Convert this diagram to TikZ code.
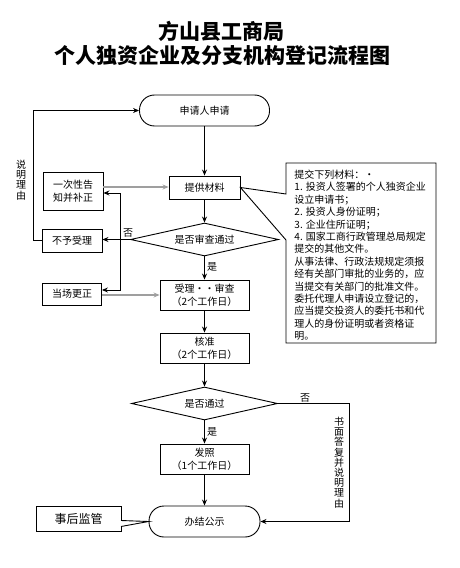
\documentclass[tikz,border=0pt]{standalone}
\usepackage{fontspec}
\setmainfont{Noto Sans CJK SC}
\usetikzlibrary{shapes.geometric,arrows.meta,calc}
\begin{document}
\begin{tikzpicture}[x=1bp,y=-1bp,
  line width=0.9bp,
  txt/.style={font=\fontsize{10bp}{13bp}\selectfont},
  box/.style={draw, rectangle, inner sep=0pt, align=center, txt},
  term/.style={draw, rectangle, rounded corners=15bp, inner sep=0pt, txt},
  dec/.style={draw, diamond, inner sep=0pt, aspect=4.5, minimum width=148bp, minimum height=33bp, font=\fontsize{10bp}{12bp}\selectfont},
  arr/.style={-{Stealth[length=6bp,width=5bp]}},
  garr/.style={draw=gray!75, line width=1.6bp, -{Stealth[length=6bp,width=5bp]}},
  lbl/.style={font=\fontsize{10bp}{12bp}\selectfont, inner sep=0pt},
  vlbl/.style={font=\fontsize{10bp}{10.2bp}\selectfont, inner sep=0pt, align=center},
  ttl/.style={font=\fontsize{21bp}{24bp}\selectfont\bfseries, inner sep=0pt}
]
\useasboundingbox (0,0) rectangle (460,568);
\fill[white] (0,0) rectangle (460,568);

% title
\node[ttl] (t1) at (221.5,31) {方山县工商局};
\node[ttl] (t2) at (222.5,55) {个人独资企业及分支机构登记流程图};

% main column
\node[term, minimum width=130bp, minimum height=31bp] (sq) at (204.5,110.5) {申请人申请};
\node[box, minimum width=71bp, minimum height=23bp] (tg) at (204.5,187.5) {提供材料};
\node[dec] (d1) at (204.5,239.5) {是否审查通过};
\node[box, minimum width=89bp, minimum height=30bp] (sl) at (204.5,295) {受理··审查\\（2个工作日）};
\node[box, minimum width=89bp, minimum height=30bp] (hz) at (204.5,348) {核准\\（2个工作日）};
\node[dec, minimum width=146bp] (d2) at (204.5,403.5) {是否通过};
\node[box, minimum width=89bp, minimum height=30bp] (fz) at (204.5,459) {发照\\（1个工作日）};
\node[term, minimum width=111bp, minimum height=31bp] (bj) at (204.5,521.5) {办结公示};

% left column
\node[box, minimum width=60bp, minimum height=38bp] (yc) at (73,191) {一次性告\\知并补正};
\node[box, minimum width=60bp, minimum height=23bp] (by) at (72,240.5) {不予受理};
\node[box, minimum width=59bp, minimum height=22bp] (dc) at (72,294) {当场更正};
\node[box, minimum width=85bp, minimum height=25bp, font=\fontsize{12bp}{14bp}\selectfont] (sh) at (78.5,518.5) {事后监管};

% main flow
\draw[arr] (sq) -- (tg);
\draw[arr] (tg) -- (d1);
\draw[arr] (d1) -- (sl);
\draw[arr] (sl) -- (hz);
\draw[arr] (hz) -- (d2);
\draw[arr] (d2) -- (fz);
\draw[arr] (fz) -- (bj);

% rejection / correction branches
\draw[arr] (d1.west) -- (d1.west -| by.east);
\coordinate (br) at (120,239.5);
\draw[arr] (br) |- ($(yc.east)+(0,2)$);
\draw[arr] (br) |- ($(dc.east)+(0,-4)$);
\coordinate (lp) at (33,240.5);
\draw[arr] (by.west) -- (lp) |- (sq.west);
\draw[garr] ($(yc.east)+(0,-4)$) -- ($(tg.west |- yc.east)+(0,-4)$);
\draw[garr] (dc.east |- sl.west) -- (sl.west);

% second decision: no
\coordinate (rt) at (349,403.5);
\draw[arr] (d2.east) -- (rt) |- (bj.east);

% labels
\node[lbl] (n1) at (128,233) {否};
\node[lbl] (y1) at (212,267) {是};
\node[lbl] (y2) at (212,432) {是};
\node[lbl] (n2) at (305,398) {否};
\node[vlbl] (smly) at (21,180) {说\\明\\理\\由};
\node[vlbl] (smdf) at (339,462.5) {书\\面\\答\\复\\并\\说\\明\\理\\由};

% materials callout
\draw[fill=white] (286,163) -- (286,194) -- (tg.east) -- (286,240) -- (286,343) -- (436,343) -- (436,163) -- cycle;
\node[anchor=north west, align=left, inner sep=0pt, font=\fontsize{10bp}{12.4bp}\selectfont] (mt) at (294,169.5) {%
提交下列材料：·\\
1. 投资人签署的个人独资企业\\
设立申请书；\\
2. 投资人身份证明；\\
3. 企业住所证明；\\
4. 国家工商行政管理总局规定\\
提交的其他文件。\\
从事法律、行政法规规定须报\\
经有关部门审批的业务的，应\\
当提交有关部门的批准文件。\\
委托代理人申请设立登记的，\\
应当提交投资人的委托书和代\\
理人的身份证明或者资格证\\
明。};

% after-supervision callout wedge
\fill[white] (120,521) rectangle (122,526);
\draw (121,520.5) -- (bj.west) -- (121,526.5);
\end{tikzpicture}
\end{document}
